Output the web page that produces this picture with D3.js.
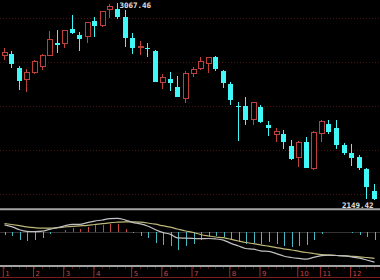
<!DOCTYPE html>
<html>
<head>
<meta charset="utf-8">
<script src="https://cdn.jsdelivr.net/npm/d3@7"></script>
<style>
    body { margin: 0; background: #000; }
    #chart { width: 380px; height: 280px; }
</style>
</head>
<body>
<div id="chart"></div>
<script>
// weekly candles, one entry per week
var opens = [2818.8, 2825.8, 2763.0, 2707.3, 2742.1, 2770.0, 2818.8, 2879.2, 2874.6, 2944.3,
    2917.8, 2907.1, 2981.5, 2958.3, 3032.6, 3035.9, 2998.7, 2903.9, 2857.4, 2857.4,
    2843.4, 2694.7, 2711.9, 2676.1, 2618.9, 2738.4, 2758.4, 2781.6, 2812.8, 2750.5,
    2687.3, 2586.4, 2586.4, 2521.3, 2583.2, 2495.8, 2451.6, 2454.9, 2400.5, 2344.7,
    2419.1, 2295.9, 2459.5, 2504.2, 2485.5, 2402.8, 2366.6, 2347.0, 2293.6, 2189.0];
var closes = [2832.8, 2781.6, 2702.6, 2744.4, 2790.9, 2818.8, 2893.2, 2869.9, 2935.0, 2927.1,
    2897.8, 2973.6, 2958.3, 3024.7, 3049.8, 3001.5, 2903.9, 2854.6, 2862.0, 2850.0,
    2699.4, 2718.0, 2694.7, 2629.6, 2738.4, 2753.7, 2790.9, 2812.8, 2758.4, 2691.9,
    2614.3, 2580.4, 2519.9, 2601.8, 2513.4, 2482.8, 2467.0, 2419.1, 2340.1, 2415.8,
    2299.6, 2460.9, 2513.4, 2465.6, 2402.8, 2366.6, 2344.7, 2296.8, 2207.6, 2152.0];
var highs = [2856.0, 2842.1, 2772.3, 2758.4, 2797.9, 2828.1, 2932.7, 2939.7, 2939.7, 3009.4,
    2931.8, 2978.2, 3001.5, 3028.0, 3060.5, 3067.46, 3032.6, 2924.3, 2889.9, 2877.8,
    2846.7, 2735.2, 2743.0, 2725.9, 2749.1, 2769.1, 2815.6, 2815.6, 2818.8, 2753.7,
    2695.6, 2605.0, 2626.9, 2606.4, 2591.1, 2516.7, 2485.5, 2474.9, 2428.4, 2425.1,
    2440.0, 2471.6, 2522.7, 2521.3, 2519.9, 2412.1, 2407.5, 2358.7, 2296.8, 2221.5];
var lows = [2800.2, 2763.0, 2658.5, 2651.5, 2735.1, 2751.4, 2816.5, 2831.4, 2853.7, 2919.7,
    2842.1, 2879.2, 2908.5, 2955.0, 2993.1, 2989.4, 2862.0, 2826.7, 2823.5, 2812.8,
    2698.0, 2664.0, 2657.5, 2625.9, 2599.0, 2719.8, 2753.7, 2741.2, 2750.5, 2668.7,
    2591.1, 2423.7, 2498.1, 2498.1, 2506.0, 2444.6, 2420.5, 2385.2, 2335.4, 2302.9,
    2296.8, 2288.9, 2420.5, 2454.9, 2386.5, 2358.7, 2307.5, 2288.9, 2154.1, 2149.42];

// MACD panel
var dif = [7.2, 5.4, 2.2, 0.6, 0.3, 0.8, 2.7, 4.3, 6.2, 7.7,
    7.6, 9.4, 10.9, 12.0, 13.4, 13.7, 11.9, 9.7, 8.1, 6.0,
    2.3, -0.4, -2.4, -5.9, -6.2, -6.5, -6.7, -6.5, -6.9, -8.2,
    -11.1, -14.0, -16.5, -17.2, -18.8, -19.4, -21.6, -24.0, -25.5, -26.4,
    -27.2, -25.4, -23.6, -23.2, -23.5, -23.9, -24.8, -26.2, -28.0, -30.2];
var dea = [8.5, 7.5, 6.3, 5.2, 4.3, 3.8, 3.8, 4.3, 5.0, 5.7,
    6.2, 6.7, 7.5, 8.3, 9.2, 9.8, 10.2, 10.2, 9.8, 9.0,
    7.8, 6.3, 4.8, 3.0, 1.0, -0.5, -2.5, -4.0, -5.0, -5.7,
    -7.2, -9.0, -10.5, -11.7, -12.8, -14.2, -15.6, -16.8, -18.0, -19.2,
    -20.5, -21.5, -22.6, -23.2, -23.5, -23.9, -24.3, -24.8, -25.5, -26.3];
var macdBars = [-2.7, -4.3, -8.3, -9.3, -8.0, -6.0, -2.3, 0, 2.3, 4.0,
    2.7, 5.3, 6.7, 7.3, 8.3, 7.7, 3.3, -1.0, -3.5, -6.0,
    -11.0, -13.3, -14.3, -17.7, -14.3, -12.0, -8.3, -5.0, -3.7, -5.0,
    -7.7, -10.0, -12.0, -11.0, -12.0, -10.3, -12.0, -14.3, -15.0, -14.3,
    -13.3, -7.7, -2.0, 0, 0, 0, -1.0, -2.7, -5.0, -7.7];

// month labels and the week where each month starts
var monthLabels = ["1", "2", "3", "4", "5", "6", "7", "8", "9", "10", "11", "12"];
var monthStarts = [0, 4, 8, 12, 17, 21, 25, 30, 34, 39, 42, 46];
var gridPrices = [2995.4, 2790.9, 2586.4, 2381.9, 2177.3];

var upColor = "#c0403a",
    downColor = "#40f8f8";

show_chart = function () {
    var width = 380, height = 280;

    var svg = d3.select("#chart")
        .append("svg")
        .attr("width", width)
        .attr("height", height)
        .style("background", "#000");

    var weeks = d3.range(opens.length);

    var x = d3.scaleBand()
        .domain(weeks)
        .range([0, 377.5]);
    var cx = function (i) {
        return Math.round(x(i) + x.bandwidth() / 2) + 0.5;
    };

    var y = d3.scaleLinear()
        .domain([2149.42, 3067.46])
        .range([200, 2.5]);

    // dotted grid
    svg.append("g")
        .selectAll("line")
        .data(gridPrices)
        .enter()
        .append("line")
        .attr("x1", 0)
        .attr("x2", width)
        .attr("y1", function (d) { return Math.round(y(d)) + 0.5; })
        .attr("y2", function (d) { return Math.round(y(d)) + 0.5; })
        .attr("stroke", "#4e1212")
        .attr("stroke-dasharray", "1,2");

    // candles
    var candle = svg.append("g")
        .selectAll("g")
        .data(weeks)
        .enter()
        .append("g")
        .attr("shape-rendering", "crispEdges");

    candle.append("line")
        .attr("x1", cx)
        .attr("x2", cx)
        .attr("y1", function (i) { return y(highs[i]); })
        .attr("y2", function (i) { return y(lows[i]); })
        .attr("stroke", function (i) { return closes[i] >= opens[i] ? upColor : downColor; });

    candle.append("rect")
        .attr("x", function (i) { return cx(i) - 2.5; })
        .attr("width", 5)
        .attr("y", function (i) { return y(Math.max(opens[i], closes[i])); })
        .attr("height", function (i) {
            return Math.max(1, Math.abs(y(opens[i]) - y(closes[i])));
        })
        .attr("fill", function (i) { return closes[i] >= opens[i] ? "#000" : downColor; })
        .attr("stroke", function (i) { return closes[i] >= opens[i] ? upColor : downColor; })
        .attr("stroke-width", function (i) { return closes[i] >= opens[i] ? 1 : 0; });

    // max / min labels
    var iMax = d3.maxIndex(highs), iMin = d3.minIndex(lows);
    svg.append("text")
        .attr("x", cx(iMax) + 2)
        .attr("y", y(highs[iMax]) + 5.5)
        .text(d3.format(".2f")(highs[iMax]))
        .attr("fill", "#e0e0e0")
        .style("font", "bold 7.5px 'DejaVu Sans Mono'");
    svg.append("text")
        .attr("x", cx(iMin) - 1)
        .attr("y", y(lows[iMin]) + 8)
        .attr("text-anchor", "end")
        .text(d3.format(".2f")(lows[iMin]))
        .attr("fill", "#e0e0e0")
        .style("font", "bold 7.5px 'DejaVu Sans Mono'");

    // panel separators
    svg.selectAll("sep")
        .data([209.3, 266])
        .enter()
        .append("line")
        .attr("x1", 0)
        .attr("x2", width)
        .attr("y1", function (d) { return d; })
        .attr("y2", function (d) { return d; })
        .attr("stroke", "#a4a4a4")
        .attr("stroke-width", 2);

    // MACD
    var ym = d3.scaleLinear()
        .domain([-32, 22])
        .range([264, 210]);

    svg.append("line")
        .attr("x1", 0)
        .attr("x2", width)
        .attr("y1", Math.round(ym(0)) + 0.5)
        .attr("y2", Math.round(ym(0)) + 0.5)
        .attr("stroke", "#333");

    svg.append("g")
        .attr("shape-rendering", "crispEdges")
        .selectAll("line")
        .data(weeks)
        .enter()
        .append("line")
        .attr("x1", function (i) { return cx(i) + 1; })
        .attr("x2", function (i) { return cx(i) + 1; })
        .attr("y1", ym(0))
        .attr("y2", function (i) { return ym(macdBars[i]); })
        .attr("stroke", function (i) { return macdBars[i] >= 0 ? "#c84848" : "#48b8c4"; });

    var line = d3.line()
        .x(function (d, i) { return cx(i); })
        .y(function (d) { return ym(d); })
        .curve(d3.curveMonotoneX);

    svg.append("path")
        .attr("d", line(dea))
        .attr("fill", "none")
        .attr("stroke", "#bdb878")
        .attr("stroke-width", 1.2);
    svg.append("path")
        .attr("d", line(dif))
        .attr("fill", "none")
        .attr("stroke", "#c0c0c0")
        .attr("stroke-width", 1.2);

    // time axis band
    var axisG = svg.append("g")
        .attr("transform", "translate(0,267)")
        .call(d3.axisBottom(x)
            .tickValues(monthStarts)
            .tickSize(10)
            .tickFormat(function (i) { return monthLabels[monthStarts.indexOf(i)]; }));
    axisG.select(".domain").remove();
    axisG.selectAll(".tick line")
        .attr("stroke", "#a02828")
        .attr("transform", "translate(-0.5,0)");
    axisG.selectAll(".tick text")
        .attr("fill", "#d04040")
        .attr("x", 1.5)
        .attr("y", 9)
        .attr("dy", null)
        .attr("text-anchor", "start")
        .style("font", "7px 'DejaVu Sans'");

    // weekly dots on top of the band
    svg.append("g")
        .selectAll("rect")
        .data(weeks)
        .enter()
        .append("rect")
        .attr("x", function (i) { return cx(i) - 0.5; })
        .attr("y", 267.5)
        .attr("width", 1)
        .attr("height", 1)
        .attr("fill", "#a02828");

    svg.append("line")
        .attr("x1", 0)
        .attr("x2", width)
        .attr("y1", 277.5)
        .attr("y2", 277.5)
        .attr("stroke", "#7a1e1e");
}

show_chart();
</script>
</body>
</html>
